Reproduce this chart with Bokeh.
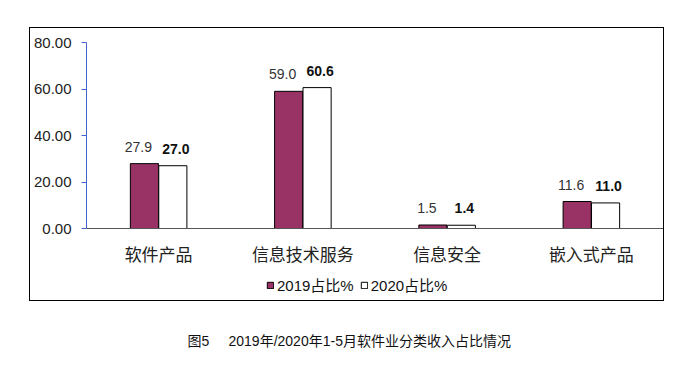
from bokeh.plotting import figure
from bokeh.layouts import column
from bokeh.models import (ColumnDataSource, FactorRange, Range1d, FixedTicker,
                          NumeralTickFormatter, Legend, LegendItem, Label)
from bokeh.transform import dodge
from bokeh.core.properties import value
from bokeh.embed import file_html
from bokeh.resources import INLINE

categories = ["软件产品", "信息技术服务", "信息安全", "嵌入式产品"]
share_2019 = [27.9, 59.0, 1.5, 11.6]
share_2020 = [27.0, 60.6, 1.4, 11.0]
y_ticks = [0, 20, 40, 60, 80]
series_names = ["2019占比%", "2020占比%"]
caption_fig = "图5"
caption_text = "2019年/2020年1-5月软件业分类收入占比情况"

src = ColumnDataSource(dict(
    cat=categories,
    v19=share_2019,
    v20=share_2020,
    t19=[f"{v:.1f}" for v in share_2019],
    t20=[f"{v:.1f}" for v in share_2020],
))

NUM_FONT = "Liberation Sans"
CJK_FONT = "Noto Sans CJK SC"
MIX_FONT = "Liberation Sans, 'Noto Sans CJK SC'"
C19 = "#993366"
C20 = "white"

# ---- main chart ----
p = figure(width=633, height=241, x_range=FactorRange(*categories, range_padding=0),
           y_range=Range1d(0, 80), output_backend="svg", toolbar_location=None,
           min_border_left=54, min_border_right=0, min_border_top=14, min_border_bottom=41)
p.x_range.range_padding = 0
p.outline_line_color = None
p.xgrid.grid_line_color = None
p.ygrid.grid_line_color = None

W = 0.195
p.vbar(x=dodge("cat", -0.0985, range=p.x_range), top="v19", width=W, source=src,
       fill_color=C19, line_color="black", line_width=1)
p.vbar(x=dodge("cat", 0.0985, range=p.x_range), top="v20", width=W, source=src,
       fill_color=C20, line_color="black", line_width=1)

p.text(x=dodge("cat", -0.0985, range=p.x_range), y="v19", text="t19", source=src,
       text_align="center", text_baseline="bottom", y_offset=-12, x_offset=-6,
       text_font=value(NUM_FONT), text_font_size="14px", text_color="#333333")
p.text(x=dodge("cat", 0.0985, range=p.x_range), y="v20", text="t20", source=src,
       text_align="center", text_baseline="bottom", y_offset=-12, x_offset=3,
       text_font=value(NUM_FONT), text_font_size="14px", text_color="#111111",
       text_font_style="bold")

ya = p.yaxis[0]
ya.ticker = FixedTicker(ticks=y_ticks)
ya.formatter = NumeralTickFormatter(format="0.00")
ya.axis_line_color = "#4466cc"
ya.major_tick_line_color = "#4466cc"
ya.major_tick_out = 5
ya.major_tick_in = 0
ya.minor_tick_line_color = None
ya.major_label_standoff = 10
ya.major_label_text_font = NUM_FONT
ya.major_label_text_font_size = "15px"
ya.major_label_text_color = "#222222"

xa = p.xaxis[0]
xa.axis_line_color = "#555555"
xa.major_tick_line_color = None
xa.minor_tick_line_color = None
xa.major_label_standoff = 6
xa.major_label_text_font = CJK_FONT
xa.major_label_text_font_size = "17px"
xa.major_label_text_color = "#222222"

# ---- legend strip (inside the border) ----
lf = figure(width=633, height=31, x_range=FactorRange(*categories), y_range=Range1d(200, 300),
            output_backend="svg", toolbar_location=None, min_border=0)
lf.axis.visible = False
lf.grid.visible = False
lf.outline_line_color = None
k19 = lf.vbar(x="cat", top="v19", width=0.1, source=src,
              fill_color=C19, line_color="black", line_width=1)
k20 = lf.vbar(x="cat", top="v20", width=0.1, source=src,
              fill_color=C20, line_color="black", line_width=1)
legend = Legend(items=[LegendItem(label=series_names[0], renderers=[k19]),
                       LegendItem(label=series_names[1], renderers=[k20])],
                orientation="horizontal", location=(180, 5),
                border_line_color=None, background_fill_alpha=0,
                padding=0, margin=0, spacing=6, glyph_width=8, glyph_height=8,
                label_height=20, label_standoff=3, label_text_font=MIX_FONT,
                label_text_font_size="15px", label_text_color="#111111")
lf.add_layout(legend, "center")

boxed = column(p, lf, spacing=0, margin=(28, 0, 0, 30),
               styles={"outline": "1px solid #000000", "outline-offset": "0px"})

# ---- caption ----
cap = figure(width=633, height=30, x_range=Range1d(0, 1), y_range=Range1d(0, 1),
             output_backend="svg", toolbar_location=None, min_border=0,
             margin=(25, 0, 0, 30))
cap.axis.visible = False
cap.grid.visible = False
cap.outline_line_color = None
cap.add_layout(Label(x=157, y=15, x_units="screen", y_units="screen", text=caption_fig,
                     text_align="left", text_baseline="middle",
                     text_font=MIX_FONT, text_font_size="14px", text_color="#111111"))
cap.add_layout(Label(x=198, y=15, x_units="screen", y_units="screen", text=caption_text,
                     text_align="left", text_baseline="middle",
                     text_font=MIX_FONT, text_font_size="14px", text_color="#111111"))

layout = column(boxed, cap, spacing=0)
open("out.html", "w").write(file_html(layout, INLINE))
